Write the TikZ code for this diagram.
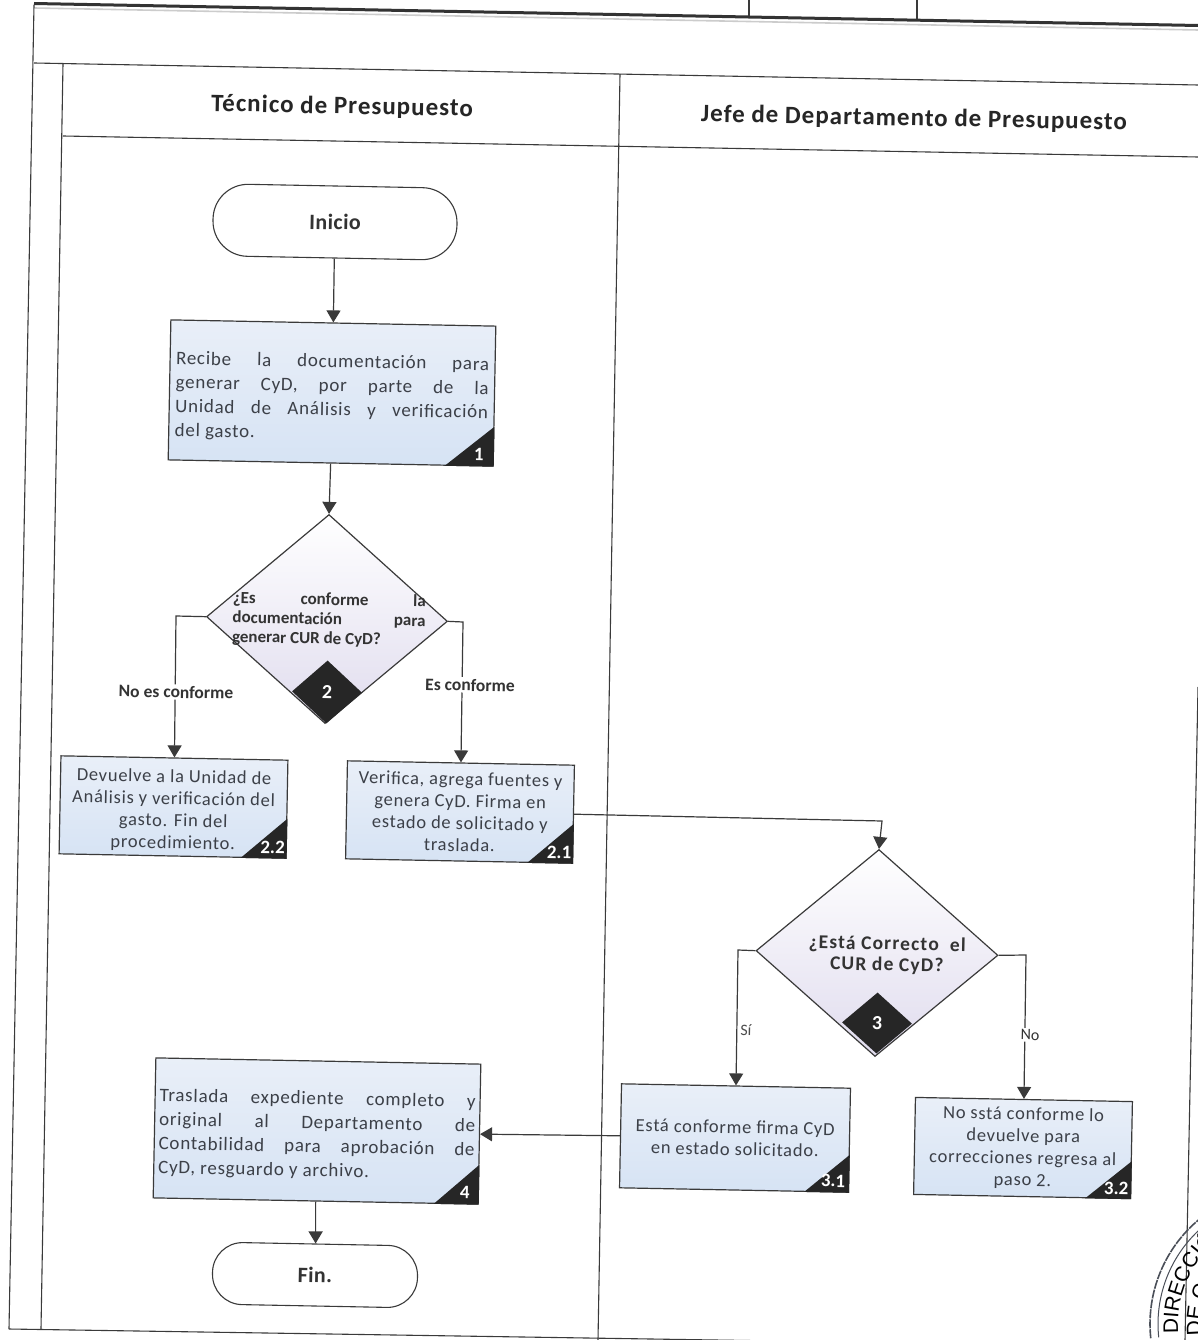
\documentclass[tikz,border=0pt]{standalone}
\usepackage{fontspec}
\setmainfont{Carlito}
\newfontfamily\bodyf[LetterSpace=4]{Carlito}
\newfontfamily\headf[LetterSpace=4]{Carlito}
\newfontfamily\termf[LetterSpace=2]{Carlito}
\newfontfamily\dthreef[LetterSpace=6]{Carlito}
\newfontfamily\stampf{Liberation Sans}
\usetikzlibrary{shapes.geometric,calc,arrows.meta,decorations.text}
\definecolor{inkc}{HTML}{3A3A3A}
\definecolor{txtc}{HTML}{3C4048}
\definecolor{stampc}{HTML}{4A4F58}
\definecolor{boxtop}{HTML}{E9EFF8}
\definecolor{boxbot}{HTML}{D6E3F4}
\definecolor{diabot}{HTML}{E0DCEE}
\tikzset{
  x=1pt,y=1pt,
  tilt/.style={rotate=-1.1},
  framel/.style={draw=inkc,line width=1.1pt},
  boxn/.style={tilt,draw=inkc,line width=1.2pt,top color=boxtop,bottom color=boxbot,
    inner sep=0pt,align=center,text=txtc,font=\bodyf\fontsize{18.5}{22}\selectfont},
  jbox/.style={boxn,align=left,font=\bodyf\fontsize{19}{24}\selectfont},
  term/.style={tilt,draw=inkc,line width=1.1pt,fill=white,inner sep=0pt,text=black!80,
    font=\termf\fontsize{22}{24}\selectfont\bfseries},
  deci/.style={tilt,diamond,draw=inkc,line width=1.2pt,top color=white,bottom color=diabot,inner sep=0pt},
  decb/.style={tilt,diamond,fill=black!85,inner sep=0pt,text=white,font=\fontsize{20}{22}\selectfont\bfseries},
  dtext/.style={tilt,inner sep=0pt,align=left,text=black!80,font=\fontsize{17}{19.5}\selectfont\bfseries},
  conn/.style={draw=inkc,line width=1.2pt,-{Triangle[width=14pt,length=12pt]}},
  lab/.style={tilt,fill=white,inner sep=1.5pt,text=black!80,font=\fontsize{17.5}{19}\selectfont\bfseries},
  labl/.style={tilt,inner sep=1pt,text=black!70,font=\fontsize{16}{18}\selectfont},
  headt/.style={tilt,inner sep=0pt,text=black!85,font=\headf\fontsize{25}{28}\selectfont\bfseries},
  badgen/.style={tilt,inner sep=0pt,text=white,font=\fontsize{19}{21}\selectfont\bfseries}
}
\newcommand{\corner}[5]{% box, width, height, text, offset
  \fill[black!85] (#1.south east) -- ($(#1.south east)!#2pt!(#1.south west)$) -- ($(#1.south east)!#3pt!(#1.north east)$) -- cycle;
  \node[badgen] (#1num) at ($(#1.south east)+(#5)$) {#4};
}
\newcommand{\jl}[2]{\makebox[#1pt][s]{#2}}
\begin{document}
\begin{tikzpicture}
\useasboundingbox (0,0) rectangle (1198,-1340);
\fill[white] (0,0) rectangle (1198,-1340);
% frame
\begin{scope}
\clip (0,0) rectangle (1198,-1340);
\draw[draw=black!20,line width=1.6pt] (34,-8) -- (1198,-30);
\draw[draw=black!80,line width=3pt] (34,-3.5) -- (1198,-25.5);
\draw[framel] (749,0) -- (749,-16);
\draw[framel] (917,0) -- (917,-19);
\draw[framel] (34,-5) -- (9,-1329);
\draw[framel] (34,-63) -- (1198,-85);
\draw[framel] (63,-64) -- (41,-1329);
\draw[framel] (620,-74) -- (598,-1340);
\draw[framel] (63,-136) -- (1198,-157);
\draw[framel] (1198,-687) -- (1185,-1340);
\draw[framel] (9,-1329) -- (780,-1341);
% stamp
\draw[stampc,line width=1.6pt,dash pattern=on 9pt off 1pt] (1286,-1324) ++(186:136) arc[start angle=186,end angle=125,radius=136];
\draw[stampc,line width=1pt] (1286,-1324) ++(186:128) arc[start angle=186,end angle=125,radius=128];
\path[decorate,text=stampc,decoration={text along path,text align=left,
  text={|\stampf\fontsize{21}{21}\selectfont|DIRECCIÓ}}]
  (1286,-1324) ++(185:108) arc[start angle=185,end angle=100,radius=108];
\path[decorate,text=stampc,decoration={text along path,text align=left,
  text={|\stampf\fontsize{21}{21}\selectfont|DE C}}]
  (1286,-1324) ++(188:85) arc[start angle=188,end angle=130,radius=85];
\end{scope}
% headers
\node[headt] (h1) at (342,-107) {Técnico de Presupuesto};
\node[headt] (h2) at (914,-119) {Jefe de Departamento de Presupuesto};
% nodes
\node[term,rounded corners=35pt,minimum width=244pt,minimum height=72pt] (ini) at (335,-222) {Inicio};
\node[jbox,minimum width=325pt,minimum height=140pt] (b1) at (332,-393) {\rule{0pt}{24pt}\jl{313}{Recibe la documentación para}\\\jl{313}{generar CyD, por parte de la}\\\jl{313}{Unidad de Análisis y verificación}\\del gasto.};
\node[deci,minimum width=241pt,minimum height=209pt] (d2) at (327,-619) {};
\node[decb,minimum width=70pt,minimum height=63pt] (d2b) at (327,-692) {2};
\node[dtext] (d2t) at (329,-620) {\jl{193}{¿Es conforme la}\\\jl{193}{documentación para}\\generar CUR de CyD?};
\node[boxn,minimum width=227pt,minimum height=98pt] (b22) at (173.5,-807) {\rule{0pt}{20pt}Devuelve a la Unidad de\\Análisis y verificación del\\gasto. Fin del\\procedimiento.};
\node[boxn,minimum width=227pt,minimum height=98pt] (b21) at (460,-812) {Verifica, agrega fuentes y\\genera CyD. Firma en\\estado de solicitado y\\traslada.};
\node[deci,minimum width=242pt,minimum height=207pt] (d3) at (877,-953) {};
\node[decb,minimum width=70pt,minimum height=61pt] (d3b) at (877,-1023) {3};
\node[dtext,align=center,font=\dthreef\fontsize{19.5}{21}\selectfont\bfseries] (d3t) at (887,-955) {¿Está Correcto\ \ el\\CUR de CyD?};
\node[boxn,minimum width=229pt,minimum height=104pt] (b31) at (735,-1138) {Está conforme firma CyD\\en estado solicitado.};
\node[boxn,minimum width=217pt,minimum height=97pt] (b32) at (1023,-1148) {No sstá conforme lo\\devuelve para\\correcciones regresa al\\paso 2.};
\node[jbox,minimum width=325pt,minimum height=140pt] (b4) at (317,-1131) {\rule{0pt}{22pt}\jl{316}{Traslada expediente completo y}\\\jl{316}{original al Departamento de}\\\jl{316}{Contabilidad para aprobación de}\\CyD, resguardo y archivo.};
\node[term,rounded corners=30pt,minimum width=205pt,minimum height=62pt] (fin) at (315,-1275) {Fin.};
% corners
\corner{b1}{49}{40}{1}{-15,12}
\corner{b22}{46}{40}{2.2}{-14,11}
\corner{b21}{46}{40}{2.1}{-14,11}
\corner{b31}{45}{38}{3.1}{-16,12}
\corner{b32}{46}{38}{3.2}{-15,11}
\corner{b4}{45}{40}{4}{-14,12}
% connector corners
\coordinate (c1) at (176,-616);
\coordinate (c2) at (463,-622);
\coordinate (c3) at (882,-821);
\coordinate (c4) at (738,-950);
\coordinate (c5) at (1026,-955);
% connectors
\draw[conn] (ini.south) -- (b1.north);
\draw[conn] (b1.south) -- (d2.north);
\draw[conn] (d2.west) -- (c1) -- (b22.north);
\draw[conn] (d2.east) -- (c2) -- (b21.north);
\draw[conn] (b21.east) -- (c3) -- (d3.north);
\draw[conn] (d3.west) -- (c4) -- (b31.north);
\draw[conn] (d3.east) -- (c5) -- (b32.north);
\draw[conn] (b31.west) -- (b4.east);
\draw[conn] (b4.south) -- (fin.north);
% labels
\node[lab] (l1) at (176,-692) {No es conforme};
\node[lab] (l2) at (470,-685) {Es conforme};
\node[labl] (l3) at (746,-1030) {Sí};
\node[lab,font=\fontsize{16}{18}\selectfont] (l4) at (1030,-1035) {No};
\end{tikzpicture}
\end{document}
